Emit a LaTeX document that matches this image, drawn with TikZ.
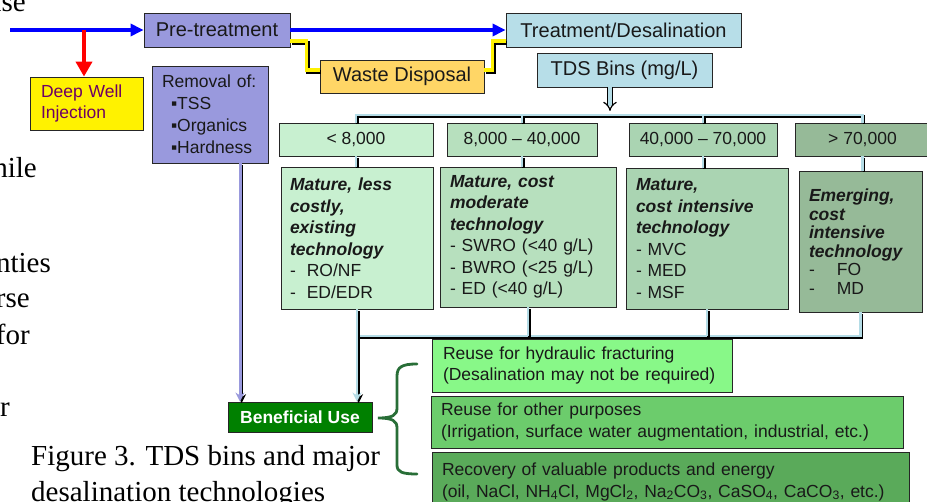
\documentclass[tikz,border=0pt]{standalone}
\usepackage{fontspec}
\setmainfont{Liberation Sans}
\newfontfamily\pagefont{Liberation Serif}
\usetikzlibrary{arrows.meta}

\definecolor{lavender}{RGB}{153,153,221}
\definecolor{cyanlt}{RGB}{183,222,232}
\definecolor{wasteor}{RGB}{255,214,102}
\definecolor{dwtext}{RGB}{110,0,100}
\definecolor{binA}{RGB}{200,240,208}
\definecolor{binB}{RGB}{183,224,190}
\definecolor{binC}{RGB}{170,212,178}
\definecolor{binD}{RGB}{150,186,152}
\definecolor{useA}{RGB}{136,248,136}
\definecolor{useB}{RGB}{108,204,108}
\definecolor{useC}{RGB}{90,170,90}
\definecolor{bengreen}{RGB}{0,128,0}
\definecolor{bracegreen}{RGB}{40,110,55}
\definecolor{pipeblue}{RGB}{180,220,230}

\tikzset{
  box/.style={draw=black!85, line width=0.8pt, inner sep=0pt, text=black!90,
    font=\fontsize{17.5}{21.5}\selectfont},
  head/.style={box, font=\fontsize{20}{24}\selectfont},
  page/.style={inner sep=0pt, font=\pagefont\fontsize{29}{35}\selectfont},
  flow/.style={draw=blue, line width=3.5pt, -{Triangle[length=13pt,width=12pt]}},
  drop/.style={draw=red, line width=4.5pt, -{Triangle[length=15pt,width=16pt]}},
  pipe/.style={draw=pipeblue, line width=2.4pt,
    preaction={draw=black, line width=2.4pt, transform canvas={shift={(1.6pt,-1.6pt)}}}},
  lavpipe/.style={pipe, draw=lavender, line width=3pt},
  waste/.style={draw=yellow, line width=3.5pt,
    preaction={draw=black, line width=3.5pt, transform canvas={shift={(1.8pt,-1.8pt)}}}},
  tip/.style={-{Stealth[length=9pt,width=9pt]}},
  dbl/.style={double=pipeblue, double distance=3.5pt, line width=1.2pt, -{Implies}}
}

\begin{document}
\begin{tikzpicture}[x=1pt,y=-1pt]
\useasboundingbox (0,0) rectangle (927,502);
\clip (0,0) rectangle (927,502);
\fill[white] (0,0) rectangle (927,502);

\node[page, anchor=base east] (fa) at (26,12) {ise};
\node[page, anchor=base east] (fb) at (37,178) {hile};
\node[page, anchor=base east] (fc) at (51,273) {nties};
\node[page, anchor=base east] (fd) at (30,308) {rse};
\node[page, anchor=base east] (fe) at (30,345) {for};
\node[page, anchor=base east] (ff) at (10,417) {r};
\node[page, anchor=base west] (cap1) at (31,466) {Figure 3. TDS bins and major};
\node[page, anchor=base west] (cap2) at (31,502) {desalination technologies};

\node[head, fill=lavender, minimum width=146pt, minimum height=34pt] (pre) at (217,30) {Pre-treatment};
\node[head, fill=cyanlt, minimum width=235pt, minimum height=34pt] (treat) at (623.5,30) {Treatment/Desalination};
\node[head, fill=cyanlt, minimum width=175pt, minimum height=34pt] (tds) at (624.5,70) {TDS Bins (mg/L)};
\node[head, fill=wasteor, minimum width=164pt, minimum height=33pt] (waste) at (402,76.5) {Waste Disposal};
\node[box, fill=yellow, text=dwtext, text width=91pt, inner xsep=11pt, align=left, minimum height=53pt] (dwi) at (86.5,103.5) {Deep Well\\Injection};
\node[box, fill=lavender, text width=96pt, inner xsep=10pt, align=left, minimum height=97pt,
  font=\fontsize{17.5}{22}\selectfont] (rem) at (210,114.5)
  {Removal of:\\\hspace{9pt}▪TSS\\\hspace{9pt}▪Organics\\\hspace{9pt}▪Hardness};

\node[box, fill=binA, minimum width=154pt, minimum height=33pt] (b1) at (356,139.5) {< 8,000};
\node[box, fill=binB, minimum width=150pt, minimum height=33pt] (b2) at (522,139.5) {8,000 – 40,000};
\node[box, fill=binC, minimum width=148pt, minimum height=33pt] (b3) at (703,139.5) {40,000 – 70,000};
\node[box, fill=binD, minimum width=135pt, minimum height=33pt] (b4) at (862.5,139.5) {> 70,000};

\node[box, fill=binA, text width=134pt, inner xsep=9pt, align=left, minimum height=142pt] (d1) at (357,238)
  {\bfseries\itshape Mature, less\\costly,\\existing\\technology\\\mdseries\upshape
   -\hspace{11pt}RO/NF\\-\hspace{11pt}ED/EDR};
\node[box, fill=binB, text width=156pt, inner xsep=10pt, align=left, minimum height=140pt] (d2) at (528,237)
  {\bfseries\itshape Mature, cost\\moderate\\technology\\\mdseries\upshape
   - SWRO (<40 g/L)\\- BWRO (<25 g/L)\\- ED (<40 g/L)};
\node[box, fill=binC, text width=142pt, inner xsep=10pt, align=left, minimum height=141pt] (d3) at (707,238.5)
  {\bfseries\itshape Mature,\\cost intensive\\technology\\\mdseries\upshape
   - MVC\\- MED\\- MSF};
\node[box, fill=binD, text width=103pt, inner xsep=10pt, align=left, minimum height=141pt,
  font=\fontsize{17.5}{18.5}\selectfont] (d4) at (860.5,241.5)
  {\bfseries\itshape Emerging,\\cost\\intensive\\technology\\\mdseries\upshape
   -\hspace{22pt}FO\\-\hspace{22pt}MD};

\node[box, fill=bengreen, text=white, font=\bfseries\fontsize{17.5}{21.5}\selectfont,
  minimum width=144pt, minimum height=30pt] (ben) at (300,417) {Beneficial Use};

\node[box, fill=useA, text width=278pt, inner xsep=11pt, align=left, minimum height=53pt] (r1) at (582,365.5)
  {Reuse for hydraulic fracturing\\(Desalination may not be required)};
\node[box, fill=useB, text width=452pt, inner xsep=10pt, align=left, minimum height=52pt] (r2) at (667,422)
  {Reuse for other purposes\\(Irrigation, surface water augmentation, industrial, etc.)};
\node[box, fill=useC, text width=457pt, inner xsep=10pt, align=left, minimum height=60pt] (r3) at (670.5,482)
  {Recovery of valuable products and energy\\(oil, NaCl, NH\textsubscript{4}Cl, MgCl\textsubscript{2},
   Na\textsubscript{2}CO\textsubscript{3}, CaSO\textsubscript{4}, CaCO\textsubscript{3}, etc.)};

\coordinate (src) at (10,30);
\coordinate (tee) at (84,30);
\draw[flow] (src) -- (pre.west);
\draw[drop] (tee) -- (tee |- dwi.north);
\draw[flow] (pre.east) -- (treat.west);

\draw[waste] ([yshift=-11pt]pre.east) -- ++(16,0) |- ([yshift=6.5pt]waste.west);
\draw[waste] ([yshift=6.5pt]waste.east) -- ++(8,0) |- ([yshift=-11pt]treat.west);

\coordinate (tbus) at (610,115);
\draw[pipe] (b1.north) -- (b1.north |- tbus) -- (b4.north |- tbus) -- (b4.north);
\draw[pipe] (b2.north) -- (b2.north |- tbus);
\draw[pipe] (b3.north) -- (b3.north |- tbus);
\draw[dbl] (tbus |- tds.south) -- ([yshift=4pt]tbus);

\draw[pipe] (b1.south) -- (b1.south |- d1.north);
\draw[pipe] (b2.south) -- (b2.south |- d2.north);
\draw[pipe] (b3.south) -- (b3.south |- d3.north);
\draw[pipe] (b4.south) -- (b4.south |- d4.north);

\coordinate (bbus) at (600,336);
\draw[pipe] (d1.south |- bbus) -- (d4.south |- bbus) -- (d4.south);
\draw[pipe] (d2.south) -- (d2.south |- bbus);
\draw[pipe] (d3.south) -- (d3.south |- bbus);
\draw[pipe, tip] (d1.south) -- (d1.south |- ben.north);

\coordinate (remout) at ([xshift=30pt]rem.south);
\draw[lavpipe, tip] (remout) -- (remout |- ben.north);

\draw[bracegreen, line width=2.8pt, line cap=round]
  (417,364) .. controls (402,364) and (397,367) .. (397,376) -- (397,408)
  .. controls (397,415) and (393,418) .. (378,418)
  .. controls (393,418) and (397,421) .. (397,428) -- (397,465)
  .. controls (397,472) and (402,474) .. (417,474);
\end{tikzpicture}
\end{document}
